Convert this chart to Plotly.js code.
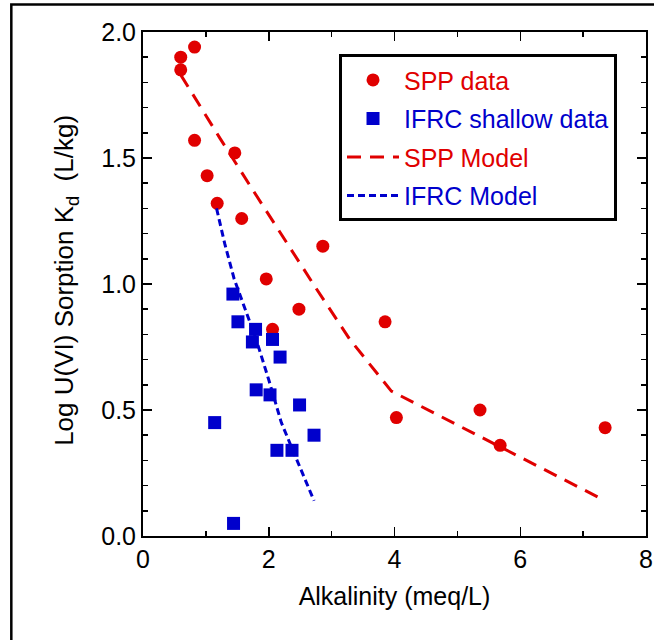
<!DOCTYPE html>
<html>
<head>
<meta charset="utf-8">
<script src="https://cdn.plot.ly/plotly-3.0.1.min.js"></script>
<style>
html,body{margin:0;padding:0;background:#fff;}
#chart{width:654px;height:640px;}
</style>
</head>
<body>
<div id="chart"></div>
<script>
// SPP data (red circles)
const sppAlk = [0.60, 0.60, 0.82, 0.82, 1.46, 1.02, 1.18, 1.57, 2.86, 1.96, 2.48, 2.06, 3.85, 4.03, 5.36, 5.68, 7.35];
const sppKd  = [1.90, 1.85, 1.94, 1.57, 1.52, 1.43, 1.32, 1.26, 1.15, 1.02, 0.90, 0.82, 0.85, 0.47, 0.50, 0.36, 0.43];

// IFRC shallow data (blue squares)
const ifrcAlk = [1.43, 1.51, 1.79, 1.74, 2.06, 2.18, 1.80, 2.02, 2.49, 1.14, 2.72, 2.13, 2.37, 1.44];
const ifrcKd  = [0.96, 0.85, 0.82, 0.77, 0.78, 0.71, 0.58, 0.56, 0.52, 0.45, 0.40, 0.34, 0.34, 0.05];

// SPP Model (red dashed)
const sppModelAlk = [0.60, 1.22, 1.78, 2.29, 2.76, 3.29, 3.95, 7.35];
const sppModelKd  = [1.83, 1.58, 1.36, 1.16, 0.98, 0.78, 0.575, 0.14];

// IFRC Model (blue dotted)
const ifrcModelAlk = [1.17, 1.30, 1.45, 1.60, 1.80, 2.00, 2.20, 2.40, 2.60, 2.72];
const ifrcModelKd  = [1.30, 1.16, 1.02, 0.92, 0.78, 0.62, 0.45, 0.33, 0.21, 0.14];

const RED = '#e00000';
const BLUE = '#0000cc';
const FONT = 'Liberation Sans, Arial, sans-serif';

const traces = [
  {x: sppAlk, y: sppKd, type: 'scatter', mode: 'markers', legendgroup: 'a',
   name: '<span style="color:' + RED + '">SPP data</span>',
   marker: {symbol: 'circle', size: 13, color: RED}},
  {x: ifrcAlk, y: ifrcKd, type: 'scatter', mode: 'markers', legendgroup: 'b',
   name: '<span style="color:' + BLUE + '">IFRC shallow data</span>',
   marker: {symbol: 'square', size: 13, color: BLUE}},
  {x: sppModelAlk, y: sppModelKd, type: 'scatter', mode: 'lines', legendgroup: 'c',
   name: '<span style="color:' + RED + '">SPP Model</span>',
   line: {color: RED, width: 3, dash: '14px,9px'}},
  {x: ifrcModelAlk, y: ifrcModelKd, type: 'scatter', mode: 'lines', legendgroup: 'd',
   name: '<span style="color:' + BLUE + '">IFRC Model</span>',
   line: {color: BLUE, width: 3, dash: '7px,4px'}}
];

const axisCommon = {
  showgrid: false, zeroline: false,
  showline: true, linecolor: '#000', linewidth: 2,
  mirror: 'ticks', ticks: 'inside', ticklen: 9, tickwidth: 1.5, tickcolor: '#000',
  tickfont: {family: FONT, size: 25, color: '#000'}
};

const layout = {
  width: 654, height: 640,
  margin: {l: 143, r: 8, t: 32, b: 104},
  paper_bgcolor: '#fff', plot_bgcolor: '#fff',
  font: {family: FONT, size: 25, color: '#000'},
  showlegend: true,
  xaxis: Object.assign({}, axisCommon, {
    range: [0, 8], dtick: 2, tick0: 0,
    minor: {dtick: 1, ticks: 'inside', ticklen: 5, tickwidth: 1.5, tickcolor: '#000', showgrid: false},
    title: {text: 'Alkalinity (meq/L)', font: {family: FONT, size: 25, color: '#000'}, standoff: 15}
  }),
  yaxis: Object.assign({}, axisCommon, {
    range: [0, 2], dtick: 0.5, tick0: 0, tickformat: '.1f',
    minor: {dtick: 0.1, ticks: 'inside', ticklen: 5, tickwidth: 1.5, tickcolor: '#000', showgrid: false},
    title: {text: '&nbsp;Log U(VI) Sorption K<sub>d</sub>  (L/kg)', font: {family: FONT, size: 26, color: '#000'}, standoff: 20}
  }),
  legend: {
    x: 0.3897, y: 0.956, xanchor: 'left', yanchor: 'top',
    bgcolor: '#fff', bordercolor: '#000', borderwidth: 3,
    font: {family: FONT, size: 25},
    itemwidth: 52, tracegroupgap: 3, traceorder: 'grouped'
  },
  shapes: [
    {type: 'rect', xref: 'paper', yref: 'paper',
     x0: -0.2618, x1: 1.05, y0: -0.25, y1: 1.0546,
     line: {color: '#000', width: 2.5}, fillcolor: 'rgba(0,0,0,0)'}
  ]
};

Plotly.newPlot('chart', traces, layout, {displayModeBar: false, staticPlot: true});
</script>
</body>
</html>
